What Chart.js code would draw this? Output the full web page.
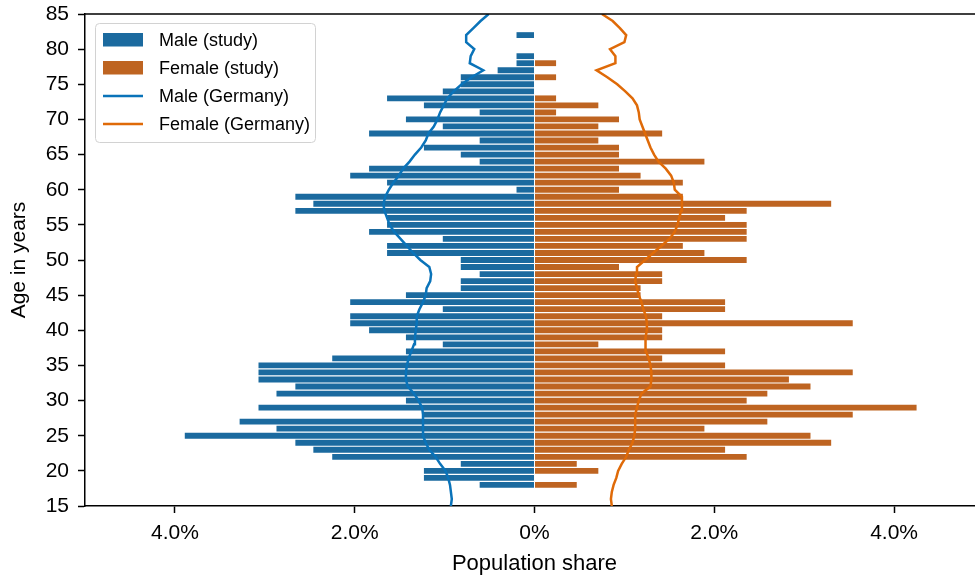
<!DOCTYPE html>
<html>
<head>
<meta charset="utf-8">
<title>Population pyramid</title>
<script src="https://cdn.jsdelivr.net/npm/chart.js@4.4.1/dist/chart.umd.min.js"></script>
<style>
  html, body { margin: 0; padding: 0; overflow: hidden; background: #ffffff; }
  #wrap { width: 1000px; height: 579px; }
</style>
</head>
<body>
<div id="wrap"><canvas id="pyramid" width="1000" height="579"></canvas></div>
<script>
// Study sample: one bar per year of age (share of all men / all women, in %)
const studyAges = [18, 19, 20, 21, 22, 23, 24, 25, 26, 27, 28, 29, 30, 31, 32, 33, 34, 35, 36, 37,
  38, 39, 40, 41, 42, 43, 44, 45, 46, 47, 48, 49, 50, 51, 52, 53, 54, 55, 56, 57,
  58, 59, 60, 61, 62, 63, 64, 65, 66, 67, 68, 69, 70, 71, 72, 73, 74, 75, 76, 77,
  78, 79, 80, 81, 82];

const maleStudy = [0.61, 1.23, 1.23, 0.82, 2.25, 2.46, 2.66, 3.89, 2.87, 3.28, 1.23, 3.07, 1.43, 2.87, 2.66, 3.07, 3.07, 3.07, 2.25, 1.43,
  1.02, 1.43, 1.84, 2.05, 2.05, 1.02, 2.05, 1.43, 0.82, 0.82, 0.61, 0.82, 0.82, 1.64, 1.64, 1.02, 1.84, 1.64, 1.64, 2.66,
  2.46, 2.66, 0.20, 1.64, 2.05, 1.84, 0.61, 0.82, 1.23, 0.61, 1.84, 1.02, 1.43, 0.61, 1.23, 1.64, 1.02, 0.82, 0.82, 0.41,
  0.20, 0.20, 0, 0, 0.20];

const femaleStudy = [0.47, 0, 0.71, 0.47, 2.36, 2.12, 3.30, 3.07, 1.89, 2.59, 3.54, 4.25, 2.36, 2.59, 3.07, 2.83, 3.54, 2.12, 1.42, 2.12,
  0.71, 1.42, 1.42, 3.54, 1.42, 2.12, 2.12, 1.18, 1.18, 1.42, 1.42, 0.94, 2.36, 1.89, 1.65, 2.36, 2.36, 2.36, 2.12, 2.36,
  3.30, 1.65, 0.94, 1.65, 1.18, 0.94, 1.89, 0.94, 0.94, 0.71, 1.42, 0.71, 0.94, 0.24, 0.71, 0.24, 0, 0, 0.24, 0,
  0.24, 0, 0, 0, 0];

// Reference population of Germany by year of age (in %)
const germanyAges = [15, 16, 17, 18, 19, 20, 21, 22, 23, 24, 25, 26, 27, 28, 29, 30, 31, 32, 33, 34,
  35, 36, 37, 38, 39, 40, 41, 42, 43, 44, 45, 46, 47, 48, 49, 50, 51, 52, 53, 54,
  55, 56, 57, 58, 59, 60, 61, 62, 63, 64, 65, 66, 67, 68, 69, 70, 71, 72, 73, 74,
  75, 76, 77, 78, 79, 80, 81, 82, 83, 84, 85];

const maleGermany = [0.93, 0.92, 0.93, 0.94, 0.96, 0.99, 1.05, 1.10, 1.17, 1.21, 1.24, 1.24, 1.24, 1.24, 1.25, 1.29, 1.34, 1.41, 1.43, 1.43,
  1.42, 1.40, 1.37, 1.34, 1.33, 1.32, 1.31, 1.31, 1.28, 1.24, 1.21, 1.20, 1.16, 1.15, 1.17, 1.27, 1.35, 1.42, 1.49, 1.56,
  1.61, 1.64, 1.67, 1.68, 1.66, 1.62, 1.57, 1.51, 1.46, 1.39, 1.33, 1.26, 1.21, 1.18, 1.12, 1.08, 1.05, 1.01, 0.97, 0.90,
  0.81, 0.70, 0.57, 0.72, 0.71, 0.67, 0.76, 0.76, 0.68, 0.60, 0.51];

const femaleGermany = [0.86, 0.85, 0.86, 0.88, 0.91, 0.93, 0.97, 1.02, 1.05, 1.09, 1.11, 1.12, 1.12, 1.12, 1.14, 1.16, 1.19, 1.29, 1.30, 1.30,
  1.29, 1.27, 1.24, 1.23, 1.24, 1.25, 1.25, 1.24, 1.21, 1.19, 1.16, 1.14, 1.12, 1.13, 1.14, 1.23, 1.32, 1.41, 1.50, 1.56,
  1.59, 1.61, 1.63, 1.64, 1.64, 1.56, 1.55, 1.52, 1.46, 1.38, 1.33, 1.29, 1.26, 1.23, 1.20, 1.17, 1.16, 1.14, 1.09, 1.01,
  0.92, 0.81, 0.69, 0.90, 0.90, 0.84, 1.00, 1.02, 0.95, 0.87, 0.75];

const shareTicks = [-4, -2, 0, 2, 4];
const ageTicks = [15, 20, 25, 30, 35, 40, 45, 50, 55, 60, 65, 70, 75, 80, 85];

const COLORS = {
  maleBar: '#1b6a9f',
  femaleBar: '#be6421',
  maleLine: '#0a73b9',
  femaleLine: '#df6a08'
};

const FONT = "'Liberation Sans', Arial, Helvetica, sans-serif";
Chart.defaults.font.family = FONT;
Chart.defaults.color = '#000000';

// Men are drawn to the left of zero, women to the right
const maleBars = studyAges.map((a, i) => ({ x: -maleStudy[i], y: a }));
const femaleBars = studyAges.map((a, i) => ({ x: femaleStudy[i], y: a }));
const maleLine = germanyAges.map((a, i) => ({ x: -maleGermany[i], y: a }));
const femaleLine = germanyAges.map((a, i) => ({ x: femaleGermany[i], y: a }));

// Top and right edges of the plot frame
const framePlugin = {
  id: 'frame',
  afterDatasetsDraw(chart) {
    const { ctx, chartArea: a } = chart;
    ctx.save();
    ctx.strokeStyle = '#000000';
    ctx.lineWidth = 1.5;
    ctx.beginPath();
    ctx.moveTo(a.left, a.top);
    ctx.lineTo(a.right, a.top);
    ctx.lineTo(a.right, a.bottom);
    ctx.stroke();
    ctx.restore();
  }
};

// Legend box in the upper-left corner of the plot
const legendPlugin = {
  id: 'cornerLegend',
  afterDraw(chart) {
    const { ctx, chartArea: a } = chart;
    const sets = chart.data.datasets;
    const x0 = a.left + 10.5, y0 = a.top + 9.5, w = 220, h = 119, r = 4;
    ctx.save();
    ctx.beginPath();
    ctx.moveTo(x0 + r, y0);
    ctx.lineTo(x0 + w - r, y0);
    ctx.arcTo(x0 + w, y0, x0 + w, y0 + r, r);
    ctx.lineTo(x0 + w, y0 + h - r);
    ctx.arcTo(x0 + w, y0 + h, x0 + w - r, y0 + h, r);
    ctx.lineTo(x0 + r, y0 + h);
    ctx.arcTo(x0, y0 + h, x0, y0 + h - r, r);
    ctx.lineTo(x0, y0 + r);
    ctx.arcTo(x0, y0, x0 + r, y0, r);
    ctx.closePath();
    ctx.fillStyle = 'rgba(255,255,255,0.85)';
    ctx.fill();
    ctx.strokeStyle = '#d2d2d2';
    ctx.lineWidth = 1;
    ctx.stroke();

    ctx.font = '18px ' + FONT;
    ctx.textBaseline = 'middle';
    ctx.textAlign = 'left';
    sets.forEach((ds, i) => {
      const cy = y0 + 16.5 + i * 28;
      const sx = x0 + 7.5;
      if (ds.type === 'line') {
        ctx.strokeStyle = ds.borderColor;
        ctx.lineWidth = 2.5;
        ctx.beginPath();
        ctx.moveTo(sx, cy);
        ctx.lineTo(sx + 40, cy);
        ctx.stroke();
      } else {
        ctx.fillStyle = ds.backgroundColor;
        ctx.fillRect(sx, cy - 7, 40, 13.5);
      }
      ctx.fillStyle = '#000000';
      ctx.fillText(ds.label, x0 + 63.5, cy + 1);
    });
    ctx.restore();
  }
};

const tickGrid = {
  drawOnChartArea: false,
  drawTicks: true,
  tickLength: 7,
  tickWidth: 1.5,
  tickColor: '#000000'
};

new Chart(document.getElementById('pyramid'), {
  type: 'bar',
  data: {
    datasets: [
      {
        type: 'bar', label: 'Male (study)', data: maleBars,
        backgroundColor: COLORS.maleBar, borderWidth: 0,
        grouped: false, barPercentage: 0.83, categoryPercentage: 1, order: 2
      },
      {
        type: 'bar', label: 'Female (study)', data: femaleBars,
        backgroundColor: COLORS.femaleBar, borderWidth: 0,
        grouped: false, barPercentage: 0.83, categoryPercentage: 1, order: 2
      },
      {
        type: 'line', label: 'Male (Germany)', data: maleLine,
        borderColor: COLORS.maleLine, backgroundColor: COLORS.maleLine,
        borderWidth: 2.5, pointRadius: 0, tension: 0, fill: false, order: 1
      },
      {
        type: 'line', label: 'Female (Germany)', data: femaleLine,
        borderColor: COLORS.femaleLine, backgroundColor: COLORS.femaleLine,
        borderWidth: 2.5, pointRadius: 0, tension: 0, fill: false, order: 1
      }
    ]
  },
  options: {
    indexAxis: 'y',
    responsive: false,
    animation: false,
    devicePixelRatio: 1,
    layout: { padding: { left: 0, top: 14, right: 16, bottom: 0 } },
    plugins: {
      legend: { display: false },
      tooltip: { enabled: false }
    },
    scales: {
      x: {
        type: 'linear',
        min: -5,
        max: 5,
        afterBuildTicks: (s) => { s.ticks = shareTicks.map(v => ({ value: v })); },
        afterFit: (s) => { s.height = 73; },
        ticks: {
          font: { size: 21 },
          color: '#000000',
          padding: 8,
          maxRotation: 0,
          callback: (v) => (v === 0 ? '0%' : Math.abs(v).toFixed(1) + '%')
        },
        grid: tickGrid,
        border: { display: true, color: '#000000', width: 1.5 },
        title: {
          display: true,
          text: 'Population share',
          font: { size: 22 },
          color: '#000000',
          padding: { top: 0, bottom: 2 }
        }
      },
      y: {
        type: 'linear',
        min: 15,
        max: 85,
        offset: false,
        afterBuildTicks: (s) => { s.ticks = ageTicks.map(v => ({ value: v })); },
        afterFit: (s) => { s.width = 85; },
        ticks: {
          font: { size: 21, lineHeight: 0.2 },
          color: '#000000',
          padding: 9
        },
        grid: Object.assign({ offset: false }, tickGrid),
        border: { display: true, color: '#000000', width: 1.5 },
        title: {
          display: true,
          text: 'Age in years',
          font: { size: 21 },
          color: '#000000',
          padding: { top: 7, bottom: 0 }
        }
      }
    }
  },
  plugins: [framePlugin, legendPlugin]
});
</script>
</body>
</html>
